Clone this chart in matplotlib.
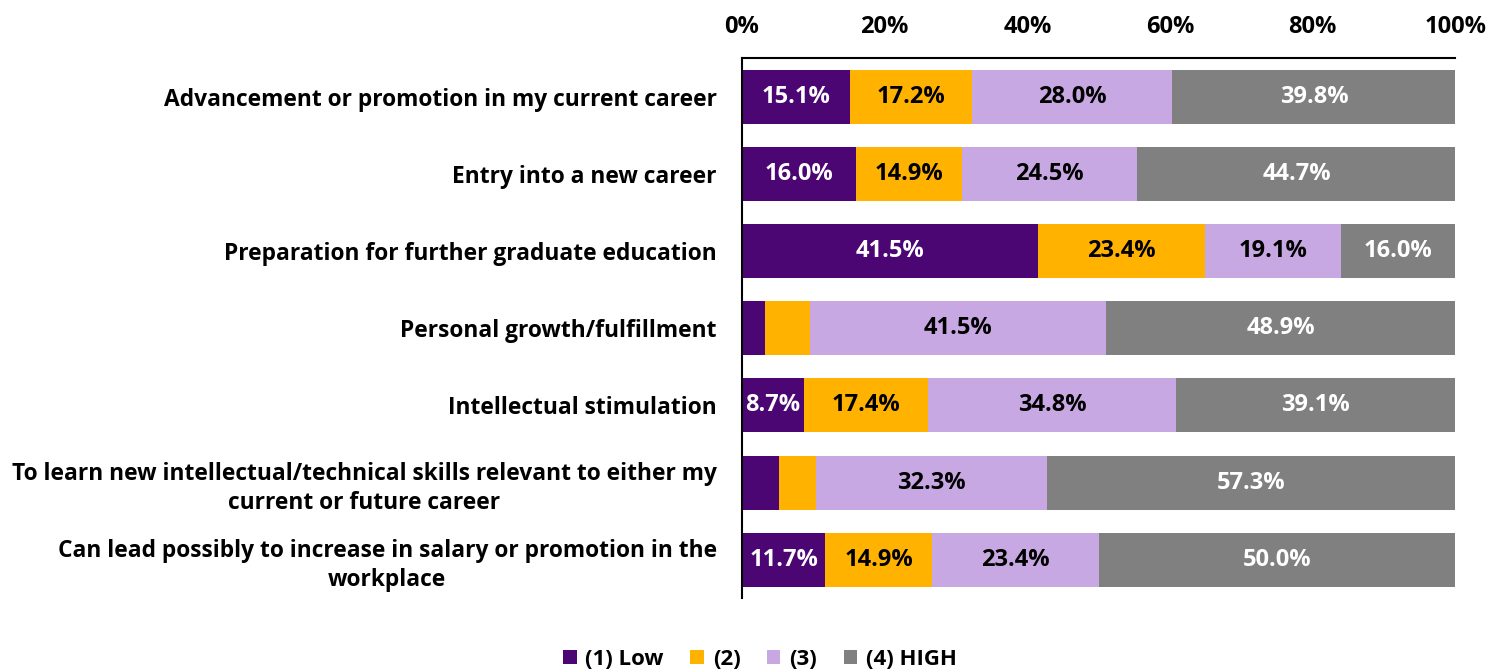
import numpy as np
import matplotlib.pyplot as plt

plt.rcParams['font.family'] = ['Open Sans', 'DejaVu Sans']
plt.rcParams['font.weight'] = 'bold'

categories = [
    "Advancement or promotion in my current career",
    "Entry into a new career",
    "Preparation for further graduate education",
    "Personal growth/fulfillment",
    "Intellectual stimulation",
    "To learn new intellectual/technical skills relevant to either my\ncurrent or future career",
    "Can lead possibly to increase in salary or promotion in the\nworkplace",
]
low = [15.1, 16.0, 41.5, 3.2, 8.7, 5.2, 11.7]
two = [17.2, 14.9, 23.4, 6.4, 17.4, 5.2, 14.9]
three = [28.0, 24.5, 19.1, 41.5, 34.8, 32.3, 23.4]
high = [39.8, 44.7, 16.0, 48.9, 39.1, 57.3, 50.0]

series = [("(1) Low", low, "#4B0673", "white"),
          ("(2)", two, "#FFB300", "black"),
          ("(3)", three, "#C8A8E2", "black"),
          ("(4) HIGH", high, "#808080", "white")]

fig = plt.figure(figsize=(15.05, 6.7), dpi=100)
ax = fig.add_axes([0.493, 0.107, 0.474, 0.806])

y = np.arange(len(categories))
left = np.zeros(len(categories))
for name, vals, color, tcolor in series:
    vals = np.array(vals)
    ax.barh(y, vals, left=left, height=0.7, color=color, label=name)
    for yi, l, v in zip(y, left, vals):
        if v >= 7:
            ax.text(l + v / 2, yi, f"{v:.1f}%", ha='center', va='center',
                    color=tcolor, fontsize=17, fontweight='bold')
    left += vals

ax.set_xlim(0, 100)
ax.set_ylim(len(categories) - 0.5, -0.5)
ax.xaxis.tick_top()
ax.set_xticks(np.arange(0, 101, 20))
ax.set_xticklabels([f"{t}%" for t in range(0, 101, 20)])
ax.tick_params(axis='x', length=0, labelsize=17, pad=14)
ax.set_yticks(y)
ax.set_yticklabels(categories, fontsize=16.4, ha='right')
ax.tick_params(axis='y', length=0, pad=18)
for lbl in ax.get_yticklabels():
    lbl.set_multialignment('center')
    lbl.set_linespacing(1.3)
ax.spines['right'].set_visible(False)
ax.spines['bottom'].set_visible(False)
ax.spines['top'].set_linewidth(1.5)
ax.spines['left'].set_linewidth(1.5)

fig.legend(loc='lower center', ncol=4, frameon=False, fontsize=16,
           bbox_to_anchor=(0.505, -0.03), handlelength=0.6, handleheight=0.6,
           handletextpad=0.4, columnspacing=1.2)

fig.savefig("out.png", dpi=100)
